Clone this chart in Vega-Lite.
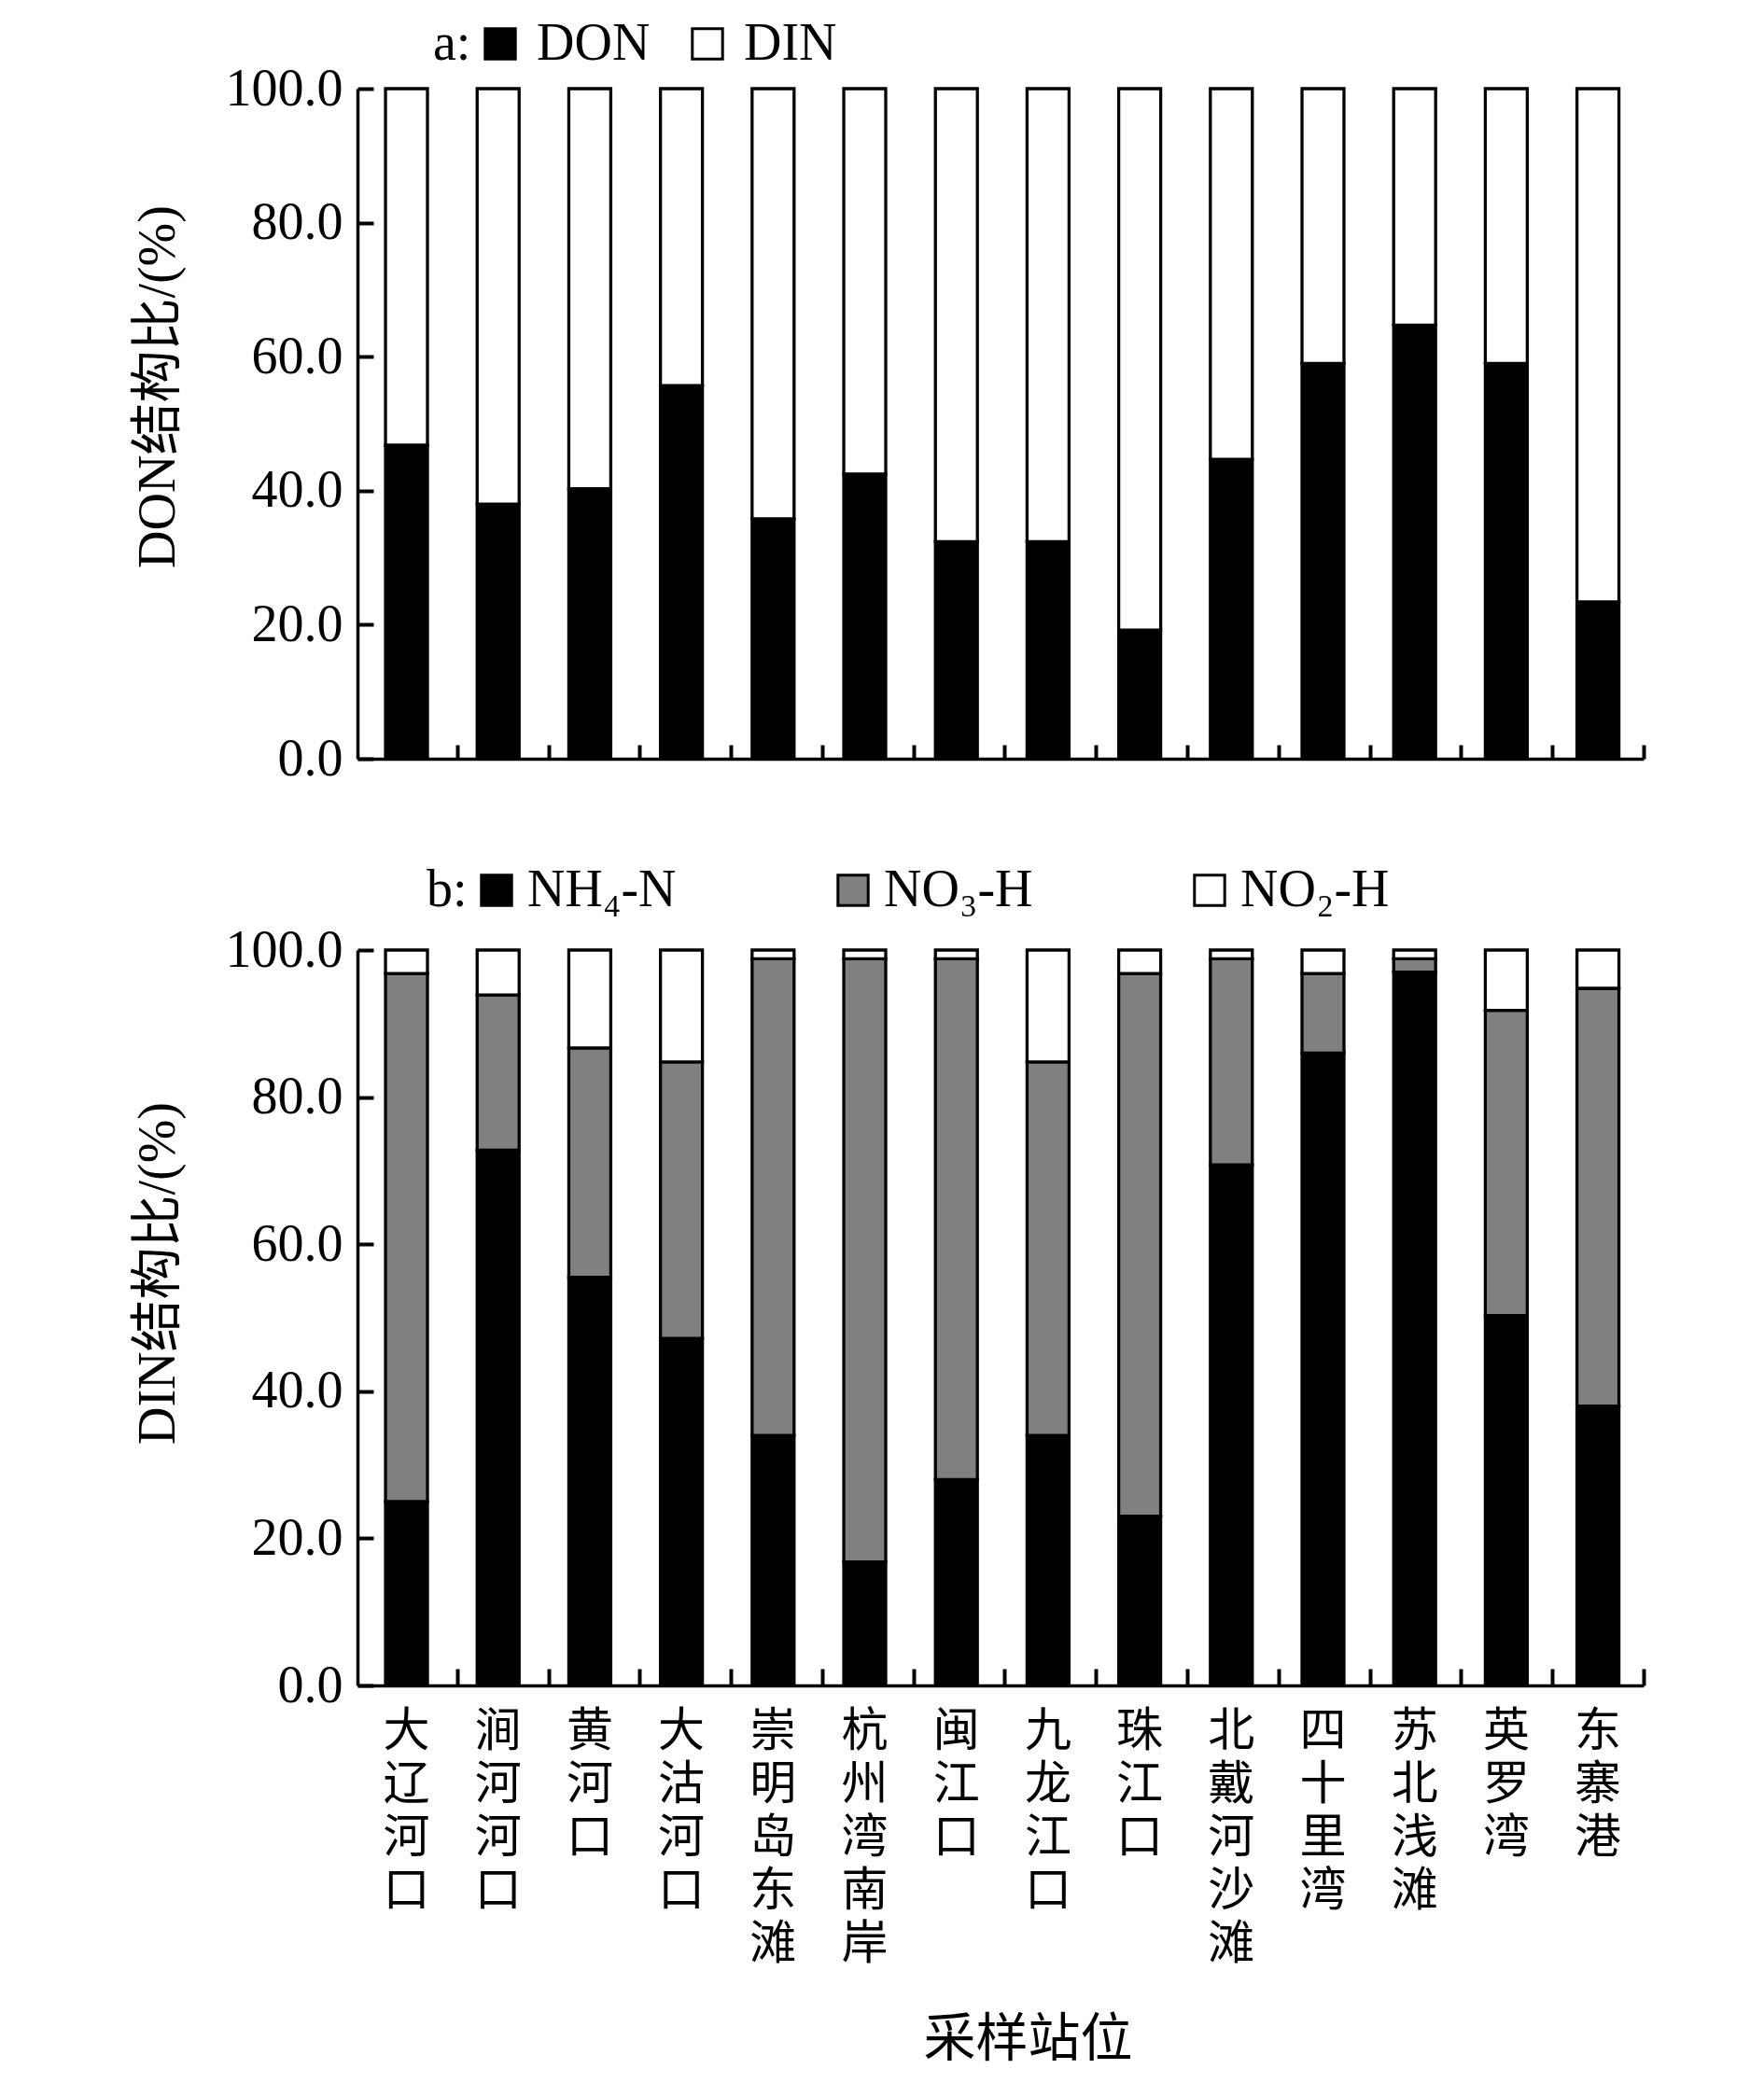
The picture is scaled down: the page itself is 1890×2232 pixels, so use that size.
{
  "$schema": "https://vega.github.io/schema/vega-lite/v6.json",
  "background": "white",
  "padding": {"left": 141, "top": 19, "right": 20, "bottom": 10},
  "bounds": "flush",
  "spacing": 205,
  "resolve": {"scale": {"color": "independent"}, "legend": {"color": "independent"}},
  "config": {
    "view": {"stroke": null},
    "font": "Liberation Serif",
    "axis": {
      "labelFont": "Liberation Serif",
      "labelFontSize": 56,
      "labelColor": "black",
      "domainColor": "black",
      "domainWidth": 3.5,
      "grid": false,
      "titleColor": "black",
      "titleFontWeight": "normal"
    }
  },
  "vconcat": [
    {
      "width": 1378,
      "height": 718,
      "data": {"values": [
        {"station": "大辽河口", "component": "DON", "value": 46.8, "ord": 1},
        {"station": "涧河河口", "component": "DON", "value": 38.0, "ord": 1},
        {"station": "黄河口", "component": "DON", "value": 40.3, "ord": 1},
        {"station": "大沽河口", "component": "DON", "value": 55.7, "ord": 1},
        {"station": "崇明岛东滩", "component": "DON", "value": 35.8, "ord": 1},
        {"station": "杭州湾南岸", "component": "DON", "value": 42.5, "ord": 1},
        {"station": "闽江口", "component": "DON", "value": 32.4, "ord": 1},
        {"station": "九龙江口", "component": "DON", "value": 32.4, "ord": 1},
        {"station": "珠江口", "component": "DON", "value": 19.2, "ord": 1},
        {"station": "北戴河沙滩", "component": "DON", "value": 44.7, "ord": 1},
        {"station": "四十里湾", "component": "DON", "value": 59.0, "ord": 1},
        {"station": "苏北浅滩", "component": "DON", "value": 64.7, "ord": 1},
        {"station": "英罗湾", "component": "DON", "value": 59.0, "ord": 1},
        {"station": "东寨港", "component": "DON", "value": 23.4, "ord": 1},
        {"station": "大辽河口", "component": "DIN", "value": 53.2, "ord": 2},
        {"station": "涧河河口", "component": "DIN", "value": 62.0, "ord": 2},
        {"station": "黄河口", "component": "DIN", "value": 59.7, "ord": 2},
        {"station": "大沽河口", "component": "DIN", "value": 44.3, "ord": 2},
        {"station": "崇明岛东滩", "component": "DIN", "value": 64.2, "ord": 2},
        {"station": "杭州湾南岸", "component": "DIN", "value": 57.5, "ord": 2},
        {"station": "闽江口", "component": "DIN", "value": 67.6, "ord": 2},
        {"station": "九龙江口", "component": "DIN", "value": 67.6, "ord": 2},
        {"station": "珠江口", "component": "DIN", "value": 80.8, "ord": 2},
        {"station": "北戴河沙滩", "component": "DIN", "value": 55.3, "ord": 2},
        {"station": "四十里湾", "component": "DIN", "value": 41.0, "ord": 2},
        {"station": "苏北浅滩", "component": "DIN", "value": 35.3, "ord": 2},
        {"station": "英罗湾", "component": "DIN", "value": 41.0, "ord": 2},
        {"station": "东寨港", "component": "DIN", "value": 76.6, "ord": 2}
      ]},
      "resolve": {"scale": {"x": "independent"}, "axis": {"x": "independent", "y": "independent"}},
      "layer": [
        {
          "mark": {"type": "bar", "stroke": "black", "strokeWidth": 3.3},
          "encoding": {
            "x": {
              "field": "station", "type": "nominal", "sort": null,
              "scale": {"paddingInner": 0.542, "paddingOuter": 0.2875, "align": 0.532},
              "axis": {"orient": "bottom", "labels": false, "title": null, "ticks": false}
            },
            "y": {
              "field": "value", "type": "quantitative", "stack": "zero",
              "scale": {"domain": [0, 100], "nice": false},
              "axis": {
                "orient": "left",
                "values": [0, 20, 40, 60, 80, 100], "format": ".1f",
                "ticks": false, "labelPadding": 16,
                "title": "DON结构比/(%)",
                "titleFont": "Liberation Serif, Noto Sans CJK SC",
                "titleFontSize": 56,
                "titleAngle": -90, "titleAlign": "center", "titleBaseline": "middle",
                "titleX": -214, "titleY": 319
              }
            },
            "color": {
              "field": "component", "type": "nominal",
              "scale": {"domain": ["DON", "DIN"], "range": ["black", "white"]},
              "legend": {
                "title": "a:", "orient": "none", "legendX": 81, "legendY": -76,
                "direction": "horizontal", "titleOrient": "left",
                "titleFont": "Liberation Serif", "titleFontSize": 56, "titleFontWeight": "normal", "titleColor": "black",
                "titlePadding": 3,
                "labelFont": "Liberation Serif", "labelFontSize": 56, "labelColor": "black",
                "symbolType": "square", "symbolSize": 1050, "symbolStrokeColor": "black", "symbolStrokeWidth": 3,
                "labelOffset": 11, "columnPadding": 33
              }
            },
            "order": {"field": "ord", "type": "quantitative"}
          }
        },
        {
          "mark": {"type": "bar", "opacity": 0},
          "encoding": {
            "x": {
              "field": "station", "type": "nominal", "sort": null,
              "scale": {"paddingInner": 0, "paddingOuter": 0.046, "align": 1},
              "axis": {
                "orient": "bottom", "offset": -15, "tickSize": 15, "tickWidth": 4, "tickColor": "black", "tickBand": "extent",
                "values": ["涧河河口", "黄河口", "大沽河口", "崇明岛东滩", "杭州湾南岸", "闽江口", "九龙江口", "珠江口", "北戴河沙滩", "四十里湾", "苏北浅滩", "英罗湾", "东寨港"],
                "labels": false, "domain": false, "title": null
              }
            },
            "y": {
              "field": "value", "type": "quantitative", "stack": "zero",
              "axis": {"orient": "left", "offset": -17, "tickSize": 17, "tickWidth": 4, "tickColor": "black", "values": [0, 20, 40, 60, 80, 100], "labels": false, "domain": false, "title": null}
            },
            "order": {"field": "ord", "type": "quantitative"}
          }
        }
      ]
    },
    {
      "width": 1378,
      "height": 788,
      "data": {"values": [
        {"station": "大辽河口", "component": "NH₄-N", "value": 25.0, "ord": 1},
        {"station": "涧河河口", "component": "NH₄-N", "value": 72.8, "ord": 1},
        {"station": "黄河口", "component": "NH₄-N", "value": 55.5, "ord": 1},
        {"station": "大沽河口", "component": "NH₄-N", "value": 47.2, "ord": 1},
        {"station": "崇明岛东滩", "component": "NH₄-N", "value": 34.0, "ord": 1},
        {"station": "杭州湾南岸", "component": "NH₄-N", "value": 16.8, "ord": 1},
        {"station": "闽江口", "component": "NH₄-N", "value": 28.0, "ord": 1},
        {"station": "九龙江口", "component": "NH₄-N", "value": 34.0, "ord": 1},
        {"station": "珠江口", "component": "NH₄-N", "value": 23.0, "ord": 1},
        {"station": "北戴河沙滩", "component": "NH₄-N", "value": 70.8, "ord": 1},
        {"station": "四十里湾", "component": "NH₄-N", "value": 86.0, "ord": 1},
        {"station": "苏北浅滩", "component": "NH₄-N", "value": 97.0, "ord": 1},
        {"station": "英罗湾", "component": "NH₄-N", "value": 50.3, "ord": 1},
        {"station": "东寨港", "component": "NH₄-N", "value": 38.0, "ord": 1},
        {"station": "大辽河口", "component": "NO₃-H", "value": 71.8, "ord": 2},
        {"station": "涧河河口", "component": "NO₃-H", "value": 21.1, "ord": 2},
        {"station": "黄河口", "component": "NO₃-H", "value": 31.2, "ord": 2},
        {"station": "大沽河口", "component": "NO₃-H", "value": 37.6, "ord": 2},
        {"station": "崇明岛东滩", "component": "NO₃-H", "value": 64.8, "ord": 2},
        {"station": "杭州湾南岸", "component": "NO₃-H", "value": 82.0, "ord": 2},
        {"station": "闽江口", "component": "NO₃-H", "value": 70.8, "ord": 2},
        {"station": "九龙江口", "component": "NO₃-H", "value": 50.8, "ord": 2},
        {"station": "珠江口", "component": "NO₃-H", "value": 73.8, "ord": 2},
        {"station": "北戴河沙滩", "component": "NO₃-H", "value": 28.0, "ord": 2},
        {"station": "四十里湾", "component": "NO₃-H", "value": 10.8, "ord": 2},
        {"station": "苏北浅滩", "component": "NO₃-H", "value": 1.8, "ord": 2},
        {"station": "英罗湾", "component": "NO₃-H", "value": 41.5, "ord": 2},
        {"station": "东寨港", "component": "NO₃-H", "value": 56.8, "ord": 2},
        {"station": "大辽河口", "component": "NO₂-H", "value": 3.2, "ord": 3},
        {"station": "涧河河口", "component": "NO₂-H", "value": 6.1, "ord": 3},
        {"station": "黄河口", "component": "NO₂-H", "value": 13.3, "ord": 3},
        {"station": "大沽河口", "component": "NO₂-H", "value": 15.2, "ord": 3},
        {"station": "崇明岛东滩", "component": "NO₂-H", "value": 1.2, "ord": 3},
        {"station": "杭州湾南岸", "component": "NO₂-H", "value": 1.2, "ord": 3},
        {"station": "闽江口", "component": "NO₂-H", "value": 1.2, "ord": 3},
        {"station": "九龙江口", "component": "NO₂-H", "value": 15.2, "ord": 3},
        {"station": "珠江口", "component": "NO₂-H", "value": 3.2, "ord": 3},
        {"station": "北戴河沙滩", "component": "NO₂-H", "value": 1.2, "ord": 3},
        {"station": "四十里湾", "component": "NO₂-H", "value": 3.2, "ord": 3},
        {"station": "苏北浅滩", "component": "NO₂-H", "value": 1.2, "ord": 3},
        {"station": "英罗湾", "component": "NO₂-H", "value": 8.2, "ord": 3},
        {"station": "东寨港", "component": "NO₂-H", "value": 5.2, "ord": 3}
      ]},
      "resolve": {"scale": {"x": "independent"}, "axis": {"x": "independent", "y": "independent"}},
      "layer": [
        {
          "mark": {"type": "bar", "stroke": "black", "strokeWidth": 3.3},
          "encoding": {
            "x": {
              "field": "station", "type": "nominal", "sort": null,
              "scale": {"paddingInner": 0.542, "paddingOuter": 0.2875, "align": 0.532},
              "axis": {
                "orient": "bottom", "ticks": false,
                "labelAngle": 0, "labelAlign": "center", "labelBaseline": "top",
                "labelFont": "Noto Sans CJK SC", "labelFontSize": 50, "labelLineHeight": 57,
                "labelPadding": 24, "labelExpr": "split(datum.label, '')",
                "title": "采样站位", "titleFont": "Noto Sans CJK SC", "titleFontSize": 56,
                "titleAlign": "center", "titleBaseline": "middle", "titleAngle": 0,
                "titleX": 718, "titleY": 379
              }
            },
            "y": {
              "field": "value", "type": "quantitative", "stack": "zero",
              "scale": {"domain": [0, 100], "nice": false},
              "axis": {
                "orient": "left",
                "values": [0, 20, 40, 60, 80, 100], "format": ".1f",
                "ticks": false, "labelPadding": 16,
                "title": "DIN结构比/(%)",
                "titleFont": "Liberation Serif, Noto Sans CJK SC",
                "titleFontSize": 56,
                "titleAngle": -90, "titleAlign": "center", "titleBaseline": "middle",
                "titleX": -214, "titleY": 346
              }
            },
            "color": {
              "field": "component", "type": "nominal",
              "scale": {"domain": ["NH₄-N", "NO₃-H", "NO₂-H"], "range": ["black", "#808080", "white"]},
              "legend": {
                "title": "b:", "orient": "none", "legendX": 74, "legendY": -92,
                "direction": "horizontal", "titleOrient": "left",
                "titleFont": "Liberation Serif", "titleFontSize": 56, "titleFontWeight": "normal", "titleColor": "black",
                "titlePadding": 3,
                "labelFont": "Liberation Serif", "labelFontSize": 56, "labelColor": "black",
                "symbolType": "square", "symbolSize": 1050, "symbolStrokeColor": "black", "symbolStrokeWidth": 3,
                "labelOffset": 5, "columnPadding": 161
              }
            },
            "order": {"field": "ord", "type": "quantitative"}
          }
        },
        {
          "mark": {"type": "bar", "opacity": 0},
          "encoding": {
            "x": {
              "field": "station", "type": "nominal", "sort": null,
              "scale": {"paddingInner": 0, "paddingOuter": 0.046, "align": 1},
              "axis": {
                "orient": "bottom", "offset": -18, "tickSize": 18, "tickWidth": 4, "tickColor": "black", "tickBand": "extent",
                "values": ["涧河河口", "黄河口", "大沽河口", "崇明岛东滩", "杭州湾南岸", "闽江口", "九龙江口", "珠江口", "北戴河沙滩", "四十里湾", "苏北浅滩", "英罗湾", "东寨港"],
                "labels": false, "domain": false, "title": null
              }
            },
            "y": {
              "field": "value", "type": "quantitative", "stack": "zero",
              "axis": {"orient": "left", "offset": -17, "tickSize": 17, "tickWidth": 4, "tickColor": "black", "values": [0, 20, 40, 60, 80, 100], "labels": false, "domain": false, "title": null}
            },
            "order": {"field": "ord", "type": "quantitative"}
          }
        }
      ]
    }
  ]
}
